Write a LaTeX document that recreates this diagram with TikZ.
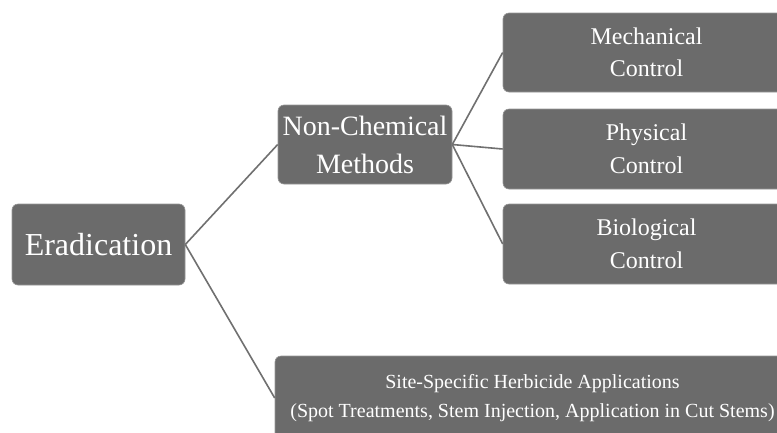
\documentclass[tikz,border=0pt]{standalone}
\usepackage{fontspec}
\setmainfont{Liberation Serif}
\usepackage{tikz}
\usepackage{xcolor}
\definecolor{boxgrey}{HTML}{6B6B6B}
\definecolor{linegrey}{HTML}{707070}
\colorlet{textc}{white}
\tikzstyle{greybox} = [
    fill=boxgrey,
    draw=boxgrey!70!white,
    line width=0.6pt,
    rounded corners=6pt,
    text=textc,
    align=center,
    inner sep=0pt
    ]
\tikzstyle{branch} = [
    draw=linegrey,
    line width=1.6pt
    ]

\begin{document}
\begin{tikzpicture}[x=1pt,y=-1pt]
\useasboundingbox (0,0) rectangle (777,432);
\clip (0,0) rectangle (777,432);
\fill[white] (0,0) rectangle (777,432);
% root
\node [greybox, minimum width=173pt, minimum height=81pt,
    font=\fontsize{32}{38}\selectfont] (erad) at (98.5,244.5) {Eradication};
% first level
\node [greybox, minimum width=174pt, minimum height=79pt,
    font=\fontsize{28}{38}\selectfont] (nonchem) at (365,144.5) {Non-Chemical\\Methods};
\node [greybox, minimum width=515pt, minimum height=84pt,
    font=\fontsize{20}{29}\selectfont] (site) at (532.5,398)
    {Site-Specific Herbicide Applications\\(Spot Treatments, Stem Injection, Application in Cut Stems)};
% second level
\node [greybox, minimum width=287pt, minimum height=79pt,
    font=\fontsize{24}{32}\selectfont] (mech) at (646.5,52.5) {Mechanical\\Control};
\node [greybox, minimum width=287pt, minimum height=80pt,
    font=\fontsize{24}{33}\selectfont] (phys) at (646.5,149) {Physical\\Control};
\node [greybox, minimum width=287pt, minimum height=80pt,
    font=\fontsize{24}{33}\selectfont] (bio) at (646.5,244) {Biological\\Control};
% connectors
\draw [branch] (erad.east) -- (nonchem.west);
\draw [branch] (erad.east) -- (site.west);
\draw [branch] (nonchem.east) -- (mech.west);
\draw [branch] (nonchem.east) -- (phys.west);
\draw [branch] (nonchem.east) -- (bio.west);
\end{tikzpicture}
\end{document}
